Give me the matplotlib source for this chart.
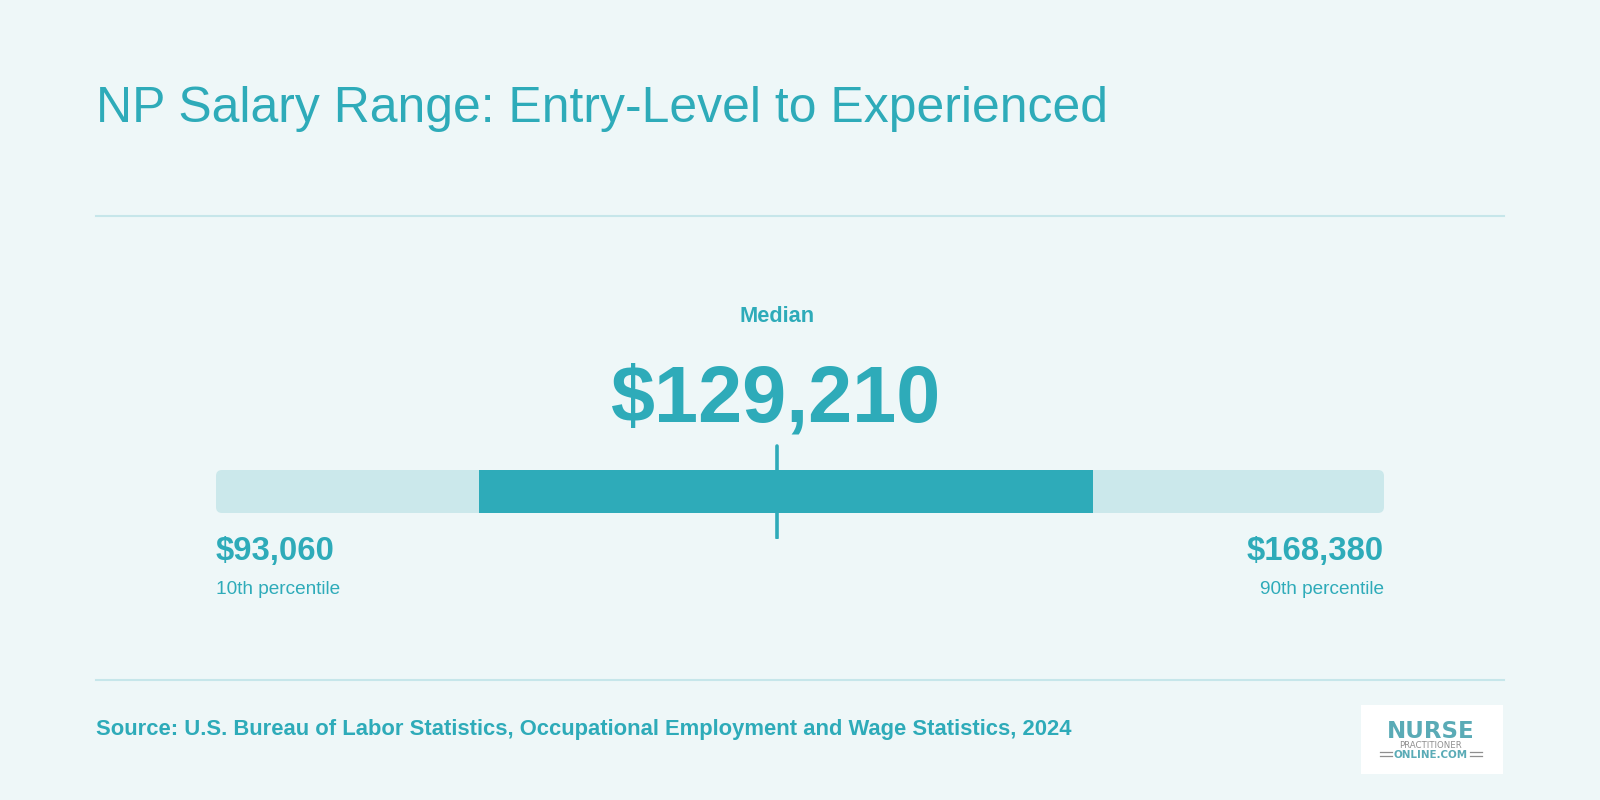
import matplotlib.pyplot as plt
from matplotlib.patches import FancyBboxPatch, Rectangle

# salary percentiles (BLS 2024, nurse practitioners)
p10 = 93060
p25 = 110000
median = 129210
p75 = 149600
p90 = 168380

title = 'NP Salary Range: Entry-Level to Experienced'
source = 'Source: U.S. Bureau of Labor Statistics, Occupational Employment and Wage Statistics, 2024'
low_label = '10th percentile'
high_label = '90th percentile'

bg = '#eef7f8'
teal = '#2eabb9'
light = '#cbe8eb'
rule = '#c6e6ea'
logo_teal = '#5aabb6'
logo_gray = '#8f8f8f'

plt.rcParams['font.family'] = ['Liberation Sans', 'DejaVu Sans']

fig = plt.figure(figsize=(16, 8), dpi=100)
fig.patch.set_facecolor(bg)

# page layer in pixel coords
ax = fig.add_axes([0, 0, 1, 1])
ax.set_xlim(0, 1600)
ax.set_ylim(800, 0)
ax.axis('off')

ax.text(96, 121.5, title, fontsize=35.9, color=teal, va='baseline', ha='left')
ax.plot([96, 1504], [216, 216], color=rule, lw=1.5)
ax.plot([96, 1504], [680, 680], color=rule, lw=1.5)
ax.text(96, 735, source, fontsize=15.8, color=teal, fontweight='bold', va='baseline', ha='left')

# logo box
ax.add_patch(Rectangle((1361, 705), 142, 69, facecolor='white', edgecolor='none'))
ax.text(1431, 738, 'NURSE', fontsize=16.5, fontweight='bold', color=logo_teal, ha='center',
        va='baseline', family=['DejaVu Sans'])
ax.text(1431, 747.5, 'PRACTITIONER', fontsize=6.2, color=logo_gray, ha='center', va='baseline',
        family=['DejaVu Sans'])
ax.text(1431, 758, 'ONLINE.COM', fontsize=7.4, fontweight='bold', color=logo_teal, ha='center',
        va='baseline', family=['DejaVu Sans'])
for yy in (752.3, 755.5):
    ax.plot([1380, 1392], [yy, yy], color=logo_gray, lw=0.9)
    ax.plot([1470, 1482], [yy, yy], color=logo_gray, lw=0.9)

# range bar in dollar units
bx = fig.add_axes([216 / 1600, 1 - 539 / 800, 1168 / 1600, 95 / 800])
bx.set_xlim(p10, p90)
bx.set_ylim(0, 95)
bx.axis('off')
bx.patch.set_alpha(0)

dollars_per_px = (p90 - p10) / 1168.0
rad = 6 * dollars_per_px
bx.add_patch(FancyBboxPatch((p10, 26), p90 - p10, 43,
                            boxstyle='round,pad=0,rounding_size=%f' % rad,
                            mutation_aspect=1.0 / dollars_per_px,
                            facecolor=light, edgecolor='none'))
bx.barh(47.5, p75 - p25, left=p25, height=43, color=teal, edgecolor='none')
bx.plot([median, median], [1.5, 93.5], color=teal, lw=2.6, solid_capstyle='round')

# labels placed from the values
mx = (216 + 1168 * (median - p10) / (p90 - p10)) / 1600
fig.text(mx, 1 - 322.5 / 800, 'Median', fontsize=15.7, fontweight='bold', color=teal,
         ha='center', va='baseline')
fig.text(mx, 1 - 422 / 800, '${:,}'.format(median), fontsize=57, fontweight='bold', color=teal,
         ha='center', va='baseline')
fig.text(216 / 1600, 1 - 560 / 800, '${:,}'.format(p10), fontsize=23.7, fontweight='bold',
         color=teal, ha='left', va='baseline')
fig.text(1384 / 1600, 1 - 560 / 800, '${:,}'.format(p90), fontsize=23.7, fontweight='bold',
         color=teal, ha='right', va='baseline')
fig.text(216 / 1600, 1 - 594 / 800, low_label, fontsize=13.7, color=teal, ha='left', va='baseline')
fig.text(1384 / 1600, 1 - 594 / 800, high_label, fontsize=13.7, color=teal, ha='right', va='baseline')

fig.savefig('out.png', dpi=100, facecolor=bg)
